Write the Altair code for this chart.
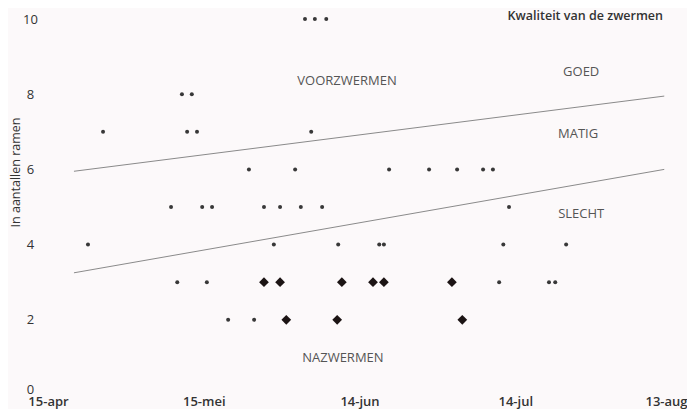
import altair as alt
import pandas as pd

# x values are days after 15 April
dot_x = [49.5, 51.4, 53.6,
         25.8, 27.7,
         10.6, 26.8, 28.7, 50.7,
         38.7, 47.6, 65.7, 73.4, 78.8, 83.8, 85.7,
         23.7, 29.7, 31.6, 41.6, 44.7, 48.7, 52.8, 88.8,
         7.7, 43.5, 55.9, 63.8, 64.7, 87.7, 99.8,
         24.9, 30.6, 86.9, 96.5, 97.7,
         34.7, 39.7]
dot_y = [10, 10, 10,
         8, 8,
         7, 7, 7, 7,
         6, 6, 6, 6, 6, 6, 6,
         5, 5, 5, 5, 5, 5, 5, 5,
         4, 4, 4, 4, 4, 4, 4,
         3, 3, 3, 3, 3,
         2, 2]

diamond_x = [41.6, 44.7, 56.6, 62.6, 64.7, 77.8, 45.9, 55.7, 79.8]
diamond_y = [3, 3, 3, 3, 3, 3, 2, 2, 2]

line_x = [5.0, 118.7]
upper_y = [5.95, 7.95]
lower_y = [3.25, 6.0]

x_ticks = [0, 30, 60, 90, 120]
x_labels = ["15-apr", "15-mei", "14-jun", "14-jul", "13-aug"]
y_ticks = [0, 2, 4, 6, 8, 10]

ann_text = ["VOORZWERMEN", "GOED", "MATIG", "SLECHT", "NAZWERMEN"]
ann_x = [57.6, 102.7, 102.1, 102.7, 56.8]
ann_y = [8.36, 8.6, 6.93, 4.81, 0.99]

title_text = "Kwaliteit van de zwermen"
y_title = "In aantallen ramen"

FONT = "Open Sans"

dots = pd.DataFrame({"x": dot_x, "y": dot_y})
diamonds = pd.DataFrame({"x": diamond_x, "y": diamond_y})
lines = pd.DataFrame({
    "x": line_x + line_x,
    "y": upper_y + lower_y,
    "grp": ["boven"] * 2 + ["onder"] * 2,
})
ann = pd.DataFrame({"t": ann_text, "x": ann_x, "y": ann_y})

label_expr = "[" + ",".join("'%s'" % s for s in x_labels) + "][round(datum.value/30)]"

xscale = alt.Scale(domain=[0, 120], nice=False, zero=False)
yscale = alt.Scale(domain=[0, 10], nice=False)

xaxis = alt.Axis(values=x_ticks, labelExpr=label_expr, title=None, grid=False,
                 domain=False, ticks=False, tickSize=0, labelPadding=0,
                 labelFont=FONT, labelFontSize=13, labelColor="#333333",
                 labelFontWeight=600, labelAlign="center",
                 labelOffset={"condition": {"test": "datum.value === 120", "value": -5}, "value": 0})
yaxis = alt.Axis(values=y_ticks, title=y_title, grid=False, domain=False,
                 ticks=False, tickSize=0, labelPadding=18, labelAlign="center",
                 labelBaseline="middle", labelFont=FONT, labelFontSize=13,
                 labelColor="#333333",
                 labelOffset={"condition": {"test": "datum.value === 0", "value": -6}, "value": 0},
                 titleFont=FONT, titleFontSize=12.5,
                 titleFontWeight="normal", titleColor="#333333",
                 titleX=-33, titleY=153, titleAlign="center",
                 titleBaseline="middle")

base_x = alt.X("x:Q", scale=xscale, axis=xaxis)
base_y = alt.Y("y:Q", scale=yscale, axis=yaxis)

line_layer = alt.Chart(lines).mark_line(color="#8a8a8a", strokeWidth=1).encode(
    x=base_x, y=base_y, detail="grp:N")

dot_layer = alt.Chart(dots).mark_point(shape="circle", filled=True, size=16,
                                       color="#383838", opacity=1).encode(
    x="x:Q", y="y:Q")

diamond_layer = alt.Chart(diamonds).mark_point(shape="diamond", filled=True,
                                               size=95, color="#1c1414",
                                               opacity=1).encode(
    x="x:Q", y="y:Q")

ann_layer = alt.Chart(ann).mark_text(font=FONT, fontSize=13, color="#555555",
                                     align="center", baseline="middle").encode(
    x="x:Q", y="y:Q", text="t:N")

title_layer = alt.Chart(pd.DataFrame({"t": [title_text]})).mark_text(
    font=FONT, fontSize=12.5, fontWeight=600, color="#333333",
    align="right", baseline="middle").encode(
    x=alt.value(615), y=alt.value(-3), text="t:N")

chart = alt.layer(line_layer, dot_layer, diamond_layer, ann_layer, title_layer).properties(
    width=623, height=376,
    autosize=alt.AutoSizeParams(type="none"),
    padding={"left": 40, "top": 11, "right": 16, "bottom": 14},
    background="#fcf9fa",
).configure_view(stroke=None)

chart.save("out.html", embed_options={"renderer": "svg", "actions": False})
